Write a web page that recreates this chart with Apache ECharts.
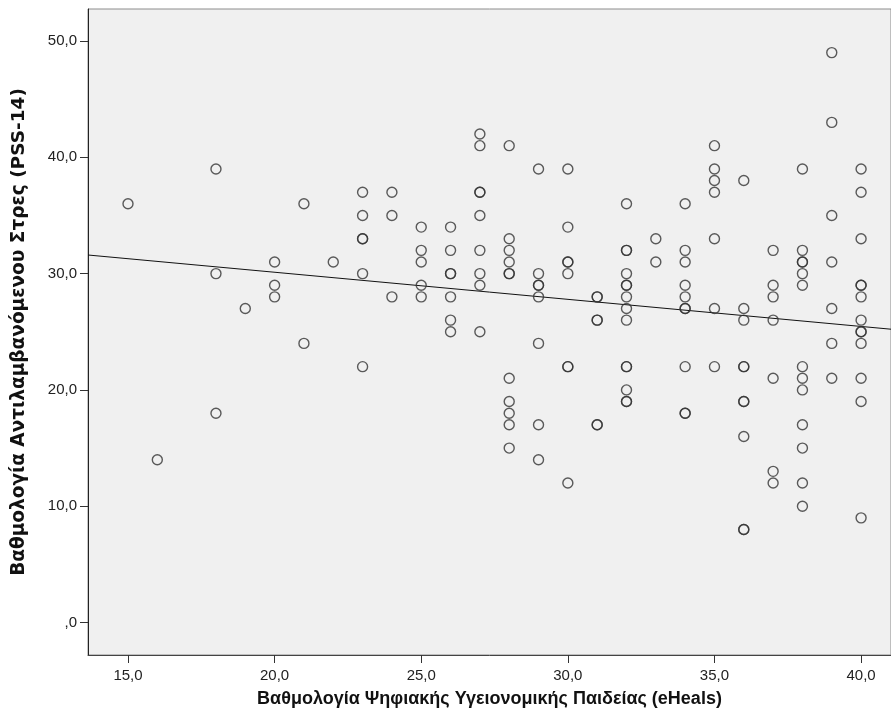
<!DOCTYPE html>
<html>
<head>
<meta charset="utf-8">
<script src="https://cdn.jsdelivr.net/npm/echarts@6/dist/echarts.min.js"></script>
<style>
html,body{margin:0;padding:0;background:#fff;}
#chart{width:891px;height:725px;}
</style>
</head>
<body>
<div id="chart"></div>
<script>
// eHeals scores (x) and the PSS-14 scores observed at each
const eHealsScores = [15, 16, 18, 19, 20, 21, 22, 23, 24, 25, 26, 27, 28, 29, 30, 31, 32, 33, 34, 35, 36, 37, 38, 39, 40];
const pssByScore = [
  [36],
  [14],
  [39, 30, 18],
  [27],
  [31, 29, 28],
  [36, 24],
  [31],
  [37, 35, 33, 33, 30, 22],
  [37, 35, 28],
  [34, 32, 31, 29, 28],
  [34, 32, 30, 30, 28, 26, 25],
  [42, 41, 37, 37, 35, 32, 30, 29, 25],
  [41, 33, 32, 31, 30, 30, 21, 19, 18, 17, 15],
  [39, 30, 29, 29, 28, 24, 17, 14],
  [39, 34, 31, 31, 30, 22, 22, 12],
  [28, 28, 26, 26, 17, 17],
  [36, 32, 32, 30, 29, 29, 28, 27, 26, 22, 22, 20, 19, 19],
  [33, 31],
  [36, 32, 31, 29, 28, 27, 27, 22, 18, 18],
  [41, 39, 38, 37, 33, 27, 22],
  [38, 27, 26, 22, 22, 19, 19, 16, 8, 8],
  [32, 29, 28, 26, 21, 13, 12],
  [39, 32, 31, 31, 30, 29, 22, 21, 20, 17, 15, 12, 10],
  [49, 43, 35, 31, 27, 24, 21],
  [39, 37, 33, 29, 29, 28, 26, 25, 25, 24, 21, 19, 9]
];
// fit line: start and end of the drawn line
const fitLine = [[13.636, 31.6], [41.02, 25.22]];
const xTicks = [15, 20, 25, 30, 35, 40];
const yTicks = [0, 10, 20, 30, 40, 50];
const xTitle = 'Βαθμολογία Ψηφιακής Υγειονομικής Παιδείας (eHeals)';
const yTitle = 'Βαθμολογία Αντιλαμβανόμενου Στρες (PSS-14)';

const points = [];
eHealsScores.forEach((x, i) => pssByScore[i].forEach(y => points.push([x, y])));

const fmt = v => {
  if (Math.abs(v) < 1e-9) return ',0';
  return v.toFixed(1).replace('.', ',');
};
const FONT = '"Liberation Sans", Arial, sans-serif';

const chart = echarts.init(document.getElementById('chart'), null, {renderer: 'canvas'});
chart.setOption({
  animation: false,
  backgroundColor: '#ffffff',
  grid: {
    left: 88, right: 0, top: 9, bottom: 70,
    containLabel: false,
    outerBoundsMode: 'none',
    show: true, backgroundColor: '#F0F0F0',
    borderColor: '#8c8c8c', borderWidth: 1
  },
  xAxis: {
    type: 'value',
    min: 13.636, max: 41.02,
    name: xTitle,
    nameLocation: 'middle',
    nameGap: 35,
    nameTextStyle: {fontFamily: FONT, fontWeight: 'bold', fontSize: 18, color: '#111'},
    splitLine: {show: false},
    axisLine: {show: true, onZero: false, lineStyle: {color: '#444', width: 1}},
    axisTick: {show: true, inside: false, length: 8, customValues: xTicks, lineStyle: {color: '#333', width: 1}},
    axisLabel: {customValues: xTicks, formatter: fmt, fontFamily: FONT, fontSize: 15, color: '#222', margin: 13}
  },
  yAxis: {
    type: 'value',
    min: -2.79, max: 52.75,
    name: yTitle,
    nameLocation: 'middle',
    nameGap: 59,
    nameRotate: 90,
    nameTextStyle: {fontFamily: '"DejaVu Sans", Verdana, sans-serif', fontWeight: 'bold', fontSize: 18.5, color: '#111'},
    splitLine: {show: false},
    axisLine: {show: true, onZero: false, lineStyle: {color: '#222', width: 1}},
    axisTick: {show: true, inside: false, length: 8, customValues: yTicks, lineStyle: {color: '#333', width: 1}},
    axisLabel: {customValues: yTicks, formatter: fmt, fontFamily: FONT, fontSize: 15, color: '#222', margin: 11}
  },
  series: [
    {
      type: 'scatter',
      data: points,
      symbol: 'circle',
      symbolSize: 10,
      itemStyle: {color: 'rgba(0,0,0,0)', borderColor: '#333333', borderWidth: 1.4},
      z: 3
    },
    {
      type: 'line',
      data: fitLine,
      symbol: 'none',
      lineStyle: {color: '#111', width: 1},
      z: 2
    }
  ]
});
</script>
</body>
</html>
